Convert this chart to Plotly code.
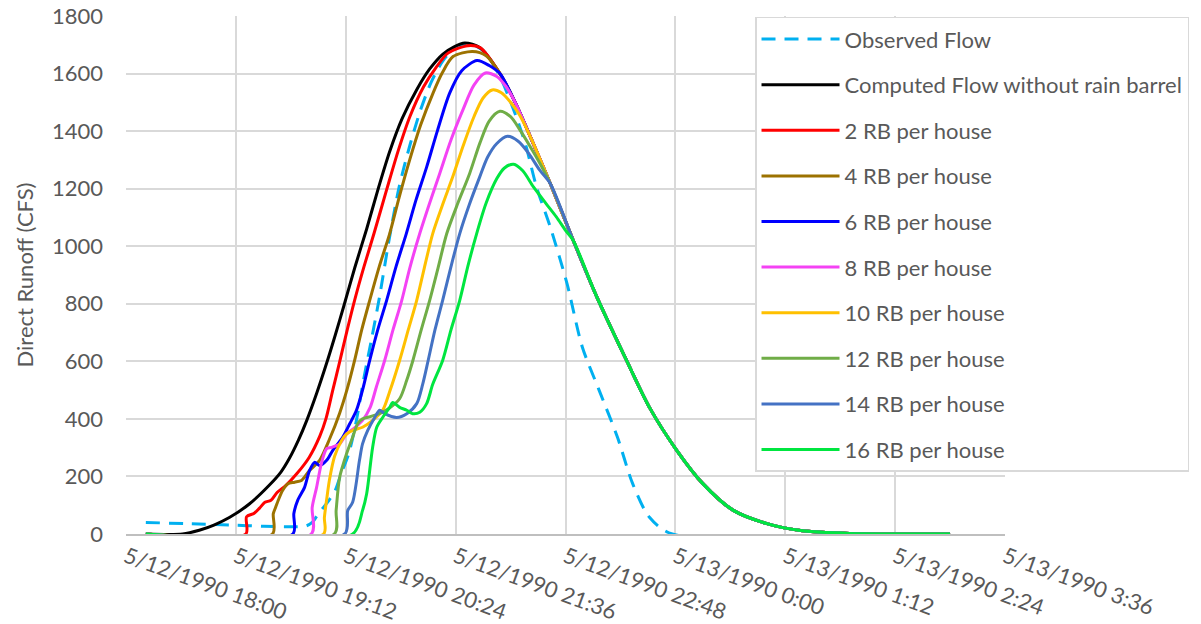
import pandas as pd
import plotly.graph_objects as go

START = pd.Timestamp("1990-05-12 18:00")

# Time axis: minutes after 5/12/1990 18:00 ; values: direct runoff (CFS)
tick_min = [0, 72, 144, 216, 288, 360, 432, 504, 576]
tick_text = ["5/12/1990 18:00", "5/12/1990 19:12", "5/12/1990 20:24", "5/12/1990 21:36",
             "5/12/1990 22:48", "5/13/1990 0:00", "5/13/1990 1:12", "5/13/1990 2:24",
             "5/13/1990 3:36"]

# shared recession limb (all computed runs converge onto it)
tail_min = [232, 245, 255, 265, 278, 293, 308, 328, 343, 361, 378, 398, 420, 442, 474, 540]
tail_cfs = [1690, 1600, 1500, 1380, 1218, 1021, 830, 603, 440, 290, 175, 82, 36, 12, 2, 0]

observed_min = [13, 40, 70, 90, 110, 118, 122, 125, 129, 133, 137, 141, 146, 151, 156, 161, 166,
                172, 179, 186, 193, 200, 208, 216, 225, 235, 245, 255, 262, 269, 278, 289, 299,
                310, 322, 332, 343, 358, 540]
observed_cfs = [40, 36, 31, 27, 25, 28, 40, 62, 90, 117, 150, 210, 280, 395, 545, 680, 820,
                1010, 1206, 1350, 1473, 1570, 1647, 1690, 1705, 1675, 1590, 1460, 1350, 1206,
                1067, 870, 650, 500, 337, 175, 58, 0, 0]

black_min = [13, 37, 48, 58, 68, 81, 94, 101.5, 107, 113, 118.4, 125, 131.5, 137, 142.5, 150,
             157.7, 165, 172.8, 181, 190.5, 199, 207.5, 215, 222]
black_cfs = [0, 0, 13, 32, 58, 105, 170, 215, 262, 326, 394, 490, 594, 689, 788, 927, 1060,
             1195, 1329, 1444, 1544, 1616, 1667, 1693, 1706]

rb2_min = [13, 78.5, 79, 84, 87.5, 91, 95, 99, 105, 112, 120, 127, 131, 135.5, 140, 145, 149.8,
           156, 162.5, 171, 178.5, 186, 195, 203, 211, 224]
rb2_cfs = [0, 0, 60, 72, 90, 110, 117, 144, 170, 210, 266, 340, 400, 500, 598, 710, 812, 930,
           1044, 1200, 1334, 1450, 1554, 1620, 1671, 1697]

rb4_min = [13, 96, 96.5, 98, 100, 102.6, 105.9, 110.5, 115, 120.3, 126.9, 133.4, 140, 145,
           149.8, 154.5, 159.7, 166, 172.8, 179, 185.9, 193, 201.2, 207, 214.3, 227, 236]
rb4_cfs = [0, 0, 70, 92, 120, 151, 174, 180, 186, 221, 256, 330, 420, 505, 603, 710, 812, 930,
           1044, 1170, 1300, 1420, 1532, 1600, 1659, 1677, 1662]

rb6_min = [13, 109.3, 110, 112.5, 117, 120.3, 123.6, 126.9, 131.5, 135.4, 142, 146.6, 151, 155,
           159.7, 165, 170.8, 177, 183.7, 190, 197, 204, 212.1, 220, 230, 238]
rb6_cfs = [0, 0, 71, 117, 162, 221, 249, 238, 256, 290, 336, 383, 430, 500, 603, 710, 812, 930,
           1044, 1160, 1275, 1400, 1532, 1610, 1645, 1628]

rb8_min = [13, 121.4, 122, 124.9, 128.2, 131.5, 134.7, 140, 144.6, 150, 155, 160, 164, 169.5,
           175, 180.7, 186, 192.5, 199, 205.6, 213, 220.7, 228, 235.5, 243, 249]
rb8_cfs = [0, 0, 92, 162, 249, 297, 301, 313, 348, 370, 395, 440, 510, 603, 710, 812, 925, 1044,
           1150, 1253, 1370, 1473, 1560, 1602, 1590, 1555]

rb10_min = [13, 129.5, 130, 131.5, 133.4, 136.7, 141.3, 144.6, 148.5, 155, 161.6, 168.2, 172.8,
            179.3, 185, 190.5, 195.5, 201, 207.5, 214.1, 221, 228, 234, 240, 246, 252, 258]
rb10_cfs = [0, 0, 57, 120, 190, 270, 325, 348, 360, 371, 395, 430, 495, 603, 710, 812, 925, 1044,
            1145, 1241, 1350, 1450, 1515, 1543, 1533, 1500, 1455]

rb12_min = [13, 136.5, 137.7, 140, 144.6, 148.5, 151.8, 155, 160, 166, 172, 179.3, 184, 188,
            193.5, 199, 204.5, 210.2, 217.5, 225.2, 232, 238, 245, 252, 258, 265, 271]
rb12_cfs = [0, 0, 82, 197, 280, 336, 383, 400, 408, 418, 435, 470, 535, 603, 710, 812, 925, 1044,
            1150, 1253, 1360, 1435, 1469, 1450, 1405, 1345, 1290]

rb14_min = [13, 143.3, 145.3, 148.5, 153, 155, 158.4, 163, 166.2, 169.5, 177.4, 184, 190.5, 194.4,
            198, 202.5, 207.5, 213, 218.7, 225, 231.8, 237, 243, 250, 257, 264, 271]
rb14_cfs = [0, 0, 82, 110, 256, 313, 360, 405, 430, 418, 405, 418, 453, 520, 603, 710, 812, 930,
            1044, 1145, 1241, 1310, 1357, 1382, 1365, 1322, 1265]

rb16_min = [13, 148.5, 155, 157.7, 161.6, 164.3, 168.2, 172.8, 174.8, 179.3, 184, 187.9, 192.5,
            197, 201, 207.5, 213, 218.7, 224, 229.8, 236, 243, 248, 254, 260, 267, 275, 282, 288]
rb16_cfs = [0, 0, 82, 140, 301, 371, 405, 440, 457, 440, 430, 418, 423, 453, 520, 603, 710, 812,
            930, 1044, 1150, 1235, 1272, 1285, 1262, 1206, 1150, 1102, 1055]

series = [
    ("Observed Flow", observed_min, observed_cfs, "#00B0F0", "dash"),
    ("Computed Flow without rain barrel", black_min + tail_min[0:], black_cfs + tail_cfs[0:], "#000000", None),
    ("2 RB per house", rb2_min + tail_min[0:], rb2_cfs + tail_cfs[0:], "#FF0000", None),
    ("4 RB per house", rb4_min + tail_min[1:], rb4_cfs + tail_cfs[1:], "#9C7200", None),
    ("6 RB per house", rb6_min + tail_min[1:], rb6_cfs + tail_cfs[1:], "#0000FF", None),
    ("8 RB per house", rb8_min + tail_min[2:], rb8_cfs + tail_cfs[2:], "#F442F4", None),
    ("10 RB per house", rb10_min + tail_min[3:], rb10_cfs + tail_cfs[3:], "#FFC000", None),
    ("12 RB per house", rb12_min + tail_min[4:], rb12_cfs + tail_cfs[4:], "#70AD47", None),
    ("14 RB per house", rb14_min + tail_min[4:], rb14_cfs + tail_cfs[4:], "#4472C4", None),
    ("16 RB per house", rb16_min + tail_min[5:], rb16_cfs + tail_cfs[5:], "#00E640", None),
]


def to_time(mins):
    return [START + pd.Timedelta(minutes=m) for m in mins]


FONT = "Lato, 'Open Sans', sans-serif"
GREY = "#595959"
GRID = "#D9D9D9"
FS = 22

fig = go.Figure()
for i, (name, t, q, color, dash) in enumerate(series):
    fig.add_trace(go.Scatter(
        x=to_time(t), y=q, name=name, mode="lines",
        line=dict(color=color, width=3,
                  dash="14px,9px" if dash else "solid",
                  shape="spline", smoothing=0.8),
        legendgroup=f"g{i}",
    ))

fig.update_layout(
    width=1201, height=624,
    margin=dict(l=126, r=196, t=16, b=90),
    paper_bgcolor="white", plot_bgcolor="white",
    font=dict(family=FONT, size=FS, color=GREY),
    showlegend=True,
    legend=dict(
        x=0.7156, y=0.9985, xanchor="left", yanchor="top",
        bgcolor="white", bordercolor=GRID, borderwidth=1.5,
        font=dict(family=FONT, size=FS, color=GREY),
        itemwidth=78, tracegroupgap=14, traceorder="grouped",
        maxheight=620,
    ),
    xaxis=dict(
        type="date", automargin=False,
        range=[START, START + pd.Timedelta(minutes=576)],
        tickvals=to_time(tick_min), ticktext=tick_text,
        tickangle=20, showgrid=True, gridcolor=GRID, gridwidth=1.5,
        showline=True, linecolor="#BFBFBF", linewidth=1.5, layer="below traces",
        zeroline=False, ticks="",
        tickfont=dict(family=FONT, size=FS, color=GREY),
    ),
    yaxis=dict(
        range=[0, 1800], dtick=200, tick0=0, automargin=False,
        showgrid=True, gridcolor=GRID, gridwidth=1.5, layer="below traces",
        showline=False, zeroline=False, ticks="",
        ticklabelstandoff=22,
        tickfont=dict(family=FONT, size=FS, color=GREY),
        title=dict(text="Direct Runoff (CFS)", font=dict(family=FONT, size=FS, color=GREY),
                   standoff=12),
    ),
)

fig.write_html("out.html")
